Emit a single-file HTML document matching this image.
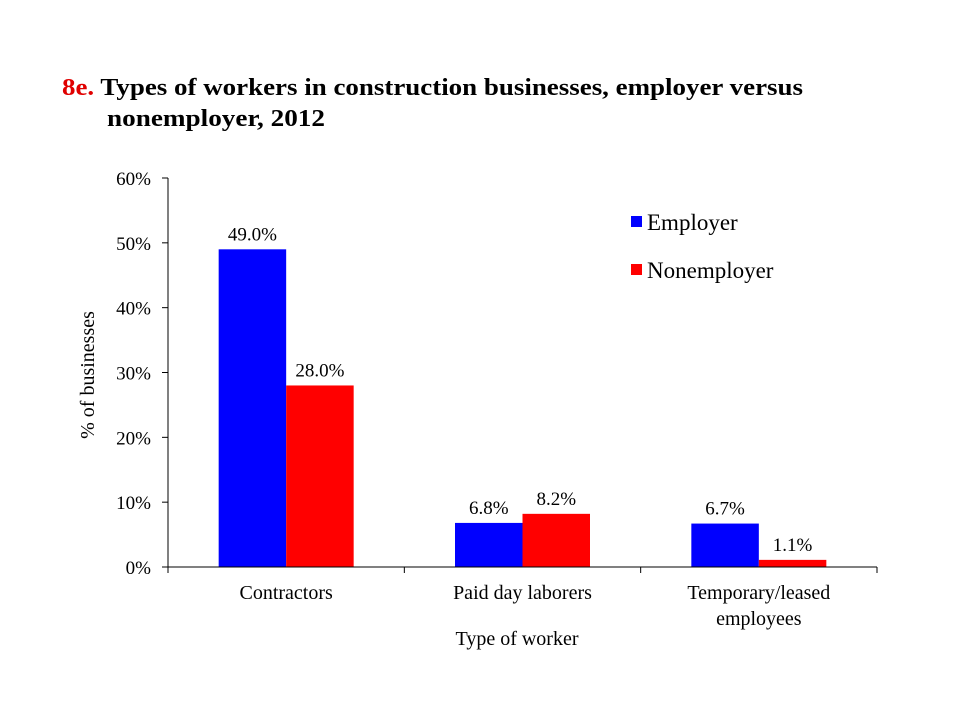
<!DOCTYPE html>
<html><head><meta charset="utf-8"><style>
body{margin:0;background:#fff;}
svg text{font-family:"Liberation Serif",serif;}
</style></head><body>
<svg width="960" height="720" xmlns="http://www.w3.org/2000/svg">
<text x="62" y="95" font-size="24" font-weight="bold" textLength="741" lengthAdjust="spacingAndGlyphs"><tspan fill="#e00000">8e.</tspan> Types of workers in construction businesses, employer versus</text>
<text x="107" y="126" font-size="24" font-weight="bold" textLength="218" lengthAdjust="spacingAndGlyphs">nonemployer, 2012</text>
<g id="plot"></g>
<text x="517" y="645" font-size="20" text-anchor="middle">Type of worker</text>
<text transform="translate(94,375) rotate(-90)" font-size="20" text-anchor="middle">% of businesses</text>
<rect x="631" y="216" width="11" height="11" fill="#0000ff"/>
<text x="647" y="230" font-size="23">Employer</text>
<rect x="631" y="264" width="11" height="11" fill="#ff0000"/>
<text x="647" y="278" font-size="23">Nonemployer</text>
</svg>
<script>
const categories=[["Contractors"],["Paid day laborers"],["Temporary/leased","employees"]];
const employer=[49.0,6.8,6.7];
const nonemployer=[28.0,8.2,1.1];
const yTicks=[0,10,20,30,40,50,60];
const NS="http://www.w3.org/2000/svg";
const g=document.getElementById('plot');
const x0=168,x1=877,y0=567,yTop=178,yMax=60;
const y=v=>y0-(v/yMax)*(y0-yTop);
const gw=(x1-x0)/categories.length;
const bw=67.5;
function mk(t,a){const e=document.createElementNS(NS,t);for(const k in a)e.setAttribute(k,a[k]);g.appendChild(e);return e;}
yTicks.forEach(t=>{
 const l=mk('line',{x1:x0-6,x2:x0,y1:y(t),y2:y(t),stroke:'#000'});
 
 
 const tx=mk('text',{x:x0-17,y:y(t)+7,'font-size':19,'text-anchor':'end'});tx.textContent=t+'%';
 
 
});
categories.forEach((c,i)=>{
 const cx=x0+gw*(i+0.5);
 [[employer,'#0000ff',-1,'employer'],[nonemployer,'#ff0000',0,'nonemployer']].forEach(([arr,col,off,nm])=>{
  const bx=cx+off*bw;
  const r=mk('rect',{x:bx,y:y(arr[i]),width:bw,height:y0-y(arr[i]),fill:col});
  
  
  const t=mk('text',{x:bx+bw/2,y:y(arr[i])-9,'font-size':19,'text-anchor':'middle'});t.textContent=arr[i].toFixed(1)+'%';
  
  
 });
 c.forEach((s,j)=>{const t=mk('text',{x:cx,y:599+j*26,'font-size':20,'text-anchor':'middle'});t.textContent=s;
  
  });
});
for(let i=0;i<=categories.length;i++){const xx=x0+gw*i;const l=mk('line',{x1:xx,x2:xx,y1:y0,y2:y0+6,stroke:'#000'});
 
 }
const ya=mk('line',{x1:x0,x2:x0,y1:yTop,y2:y0,stroke:'#000'});


const xa=mk('line',{x1:x0,x2:x1,y1:y0,y2:y0,stroke:'#000'});


</script>
</body></html>
